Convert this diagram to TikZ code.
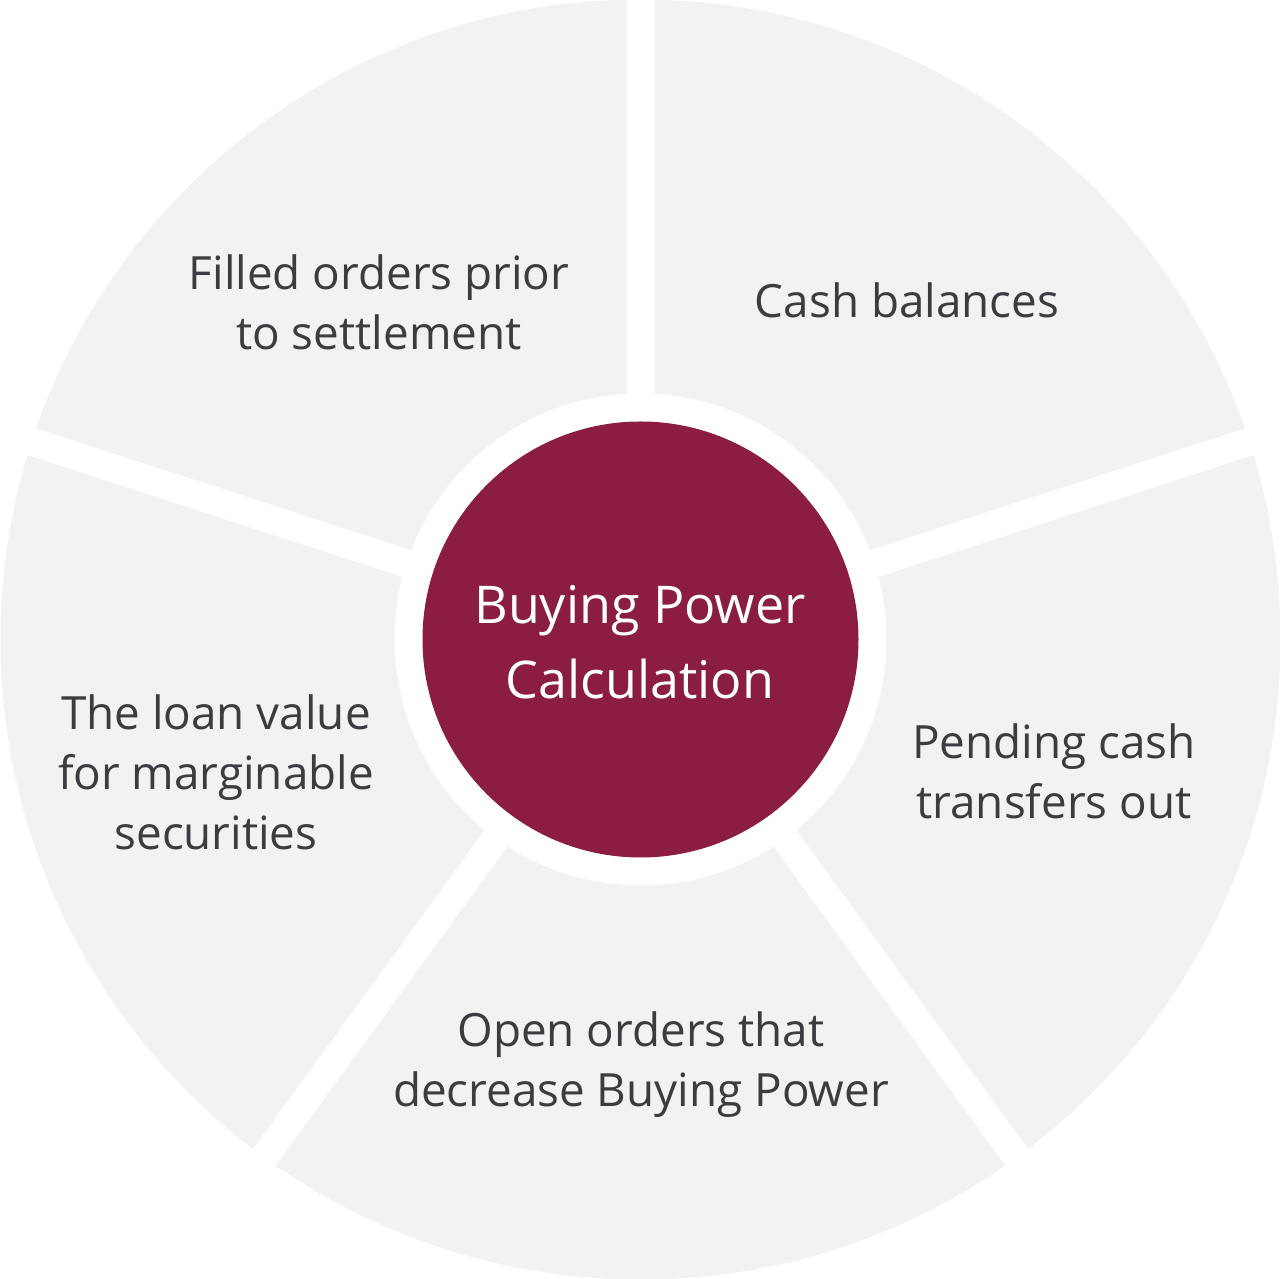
\documentclass[tikz,border=0pt]{standalone}
\usepackage{fontspec}
\setmainfont{Open Sans}
\definecolor{segfill}{HTML}{F2F2F2}
\definecolor{hubred}{HTML}{8A1D40}
\definecolor{txtgray}{HTML}{3A3C3F}
\begin{document}
\begin{tikzpicture}[x=1pt,y=1pt,
  gap/.style={line width=28pt,white},
  seglabel/.style={align=center,text=txtgray,font=\fontsize{45.8}{60}\selectfont,inner sep=0pt},
  hublabel/.style={align=center,text=white,font=\fontsize{52}{75}\selectfont,inner sep=0pt}]
\useasboundingbox (0,0) rectangle (1280,1279);
\fill[white] (0,0) rectangle (1280,1279);
\coordinate (c) at (640.5,639.5);
\fill[segfill] (c) circle[radius=640];
\foreach \a in {90,18,-54,-126,162}{
  \draw[gap] (c) -- ++(\a:680);
}
\fill[white] (c) circle[radius=246];
\fill[hubred] (c) circle[radius=218];
\node[hublabel] (hub) at (640,1279-642) {Buying Power\\Calculation};
\node[seglabel] (s1) at (379,1279-302) {Filled orders prior\\to settlement};
\node[seglabel] (s2) at (907,1279-300) {Cash balances};
\node[seglabel] (s3) at (1054,1279-771) {Pending cash\\transfers out};
\node[seglabel] (s4) at (641,1279-1065) {Open orders that\\decrease Buying Power};
\node[seglabel] (s5) at (216,1279-772) {The loan value\\for marginable\\securities};
\end{tikzpicture}
\end{document}
